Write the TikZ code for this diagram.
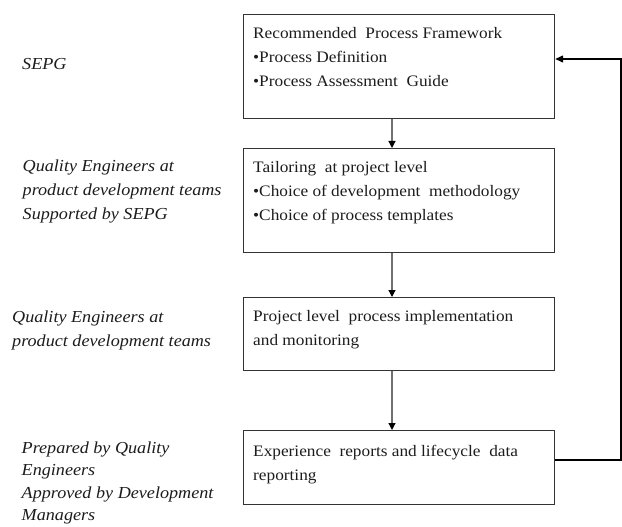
\documentclass[tikz,border=0pt]{standalone}
\usepackage{fontspec}
\setmainfont{Liberation Serif}[FakeStretch=1.08]
\usetikzlibrary{arrows.meta,calc}
\definecolor{txt}{HTML}{1C1C1C}
\definecolor{edge}{HTML}{333333}
\definecolor{conn}{HTML}{707070}
\newcommand\fl{\rule{0pt}{12pt}}
\begin{document}
\begin{tikzpicture}[x=1pt,y=-1pt,
  procbox/.style={draw=edge,line width=1.2pt,rectangle,anchor=north west,minimum width=311pt,inner sep=0pt},
  boxtext/.style={anchor=north west,inner sep=0pt,align=left,text=txt,font=\fontsize{16}{24.2}\selectfont},
  roletext/.style={anchor=north west,inner sep=0pt,align=left,text=txt,font=\fontsize{16.8}{24}\selectfont\itshape},
  varrow/.style={draw=conn,line width=1.2pt,-{Triangle[length=7pt,width=7pt,color=black]}},
  fbarrow/.style={draw=black,line width=1.3pt,-{Triangle[length=8pt,width=7pt]}}]
\useasboundingbox (0,0) rectangle (622,527);
% boxes
\node[procbox,minimum height=104pt] (b1) at (243,14) {};
\node[procbox,minimum height=104pt] (b2) at (243,148) {};
\node[procbox,minimum height=73pt] (b3) at (243,297) {};
\node[procbox,minimum height=74pt] (b4) at (243,430) {};
% box texts
\node[boxtext] (t1) at (253,26) {\fl Recommended\ \ Process Framework\\\textbullet Process Definition\\\textbullet Process Assessment\ \ Guide};
\node[boxtext] (t2) at (253,160) {\fl Tailoring\ \ at project level\\\textbullet Choice of development\ \ methodology\\\textbullet Choice of process templates};
\node[boxtext] (t3) at (253,309.5) {\fl Project level\ \ process implementation\\and monitoring};
\node[boxtext] (t4) at (253,444.5) {\fl Experience\ \ reports and lifecycle\ \ data\\reporting};
% role labels
\node[roletext] (r1) at (22,57) {\fl SEPG};
\node[roletext] (r2) at (22.5,159.7) {\fl Quality Engineers at\\product development teams\\Supported by SEPG};
\node[roletext] (r3) at (12,310) {\fl Quality Engineers at\\product development teams};
\node[roletext,font=\fontsize{16.8}{22.5}\selectfont\itshape] (r4) at (21.5,441) {\fl Prepared by Quality\\Engineers\\Approved by Development\\Managers};
% connectors
\draw[varrow] ([xshift=149pt]b1.south west) -- ([xshift=149pt]b2.north west);
\draw[varrow] ([xshift=149pt]b2.south west) -- ([xshift=149pt]b3.north west);
\draw[varrow] ([xshift=149pt]b3.south west) -- ([xshift=149pt]b4.north west);
\coordinate (fbc) at (621,59);
\draw[fbarrow] ([yshift=-30pt]b4.north east) -| (fbc) -- ([yshift=-45pt]b1.north east);
\end{tikzpicture}
\end{document}
